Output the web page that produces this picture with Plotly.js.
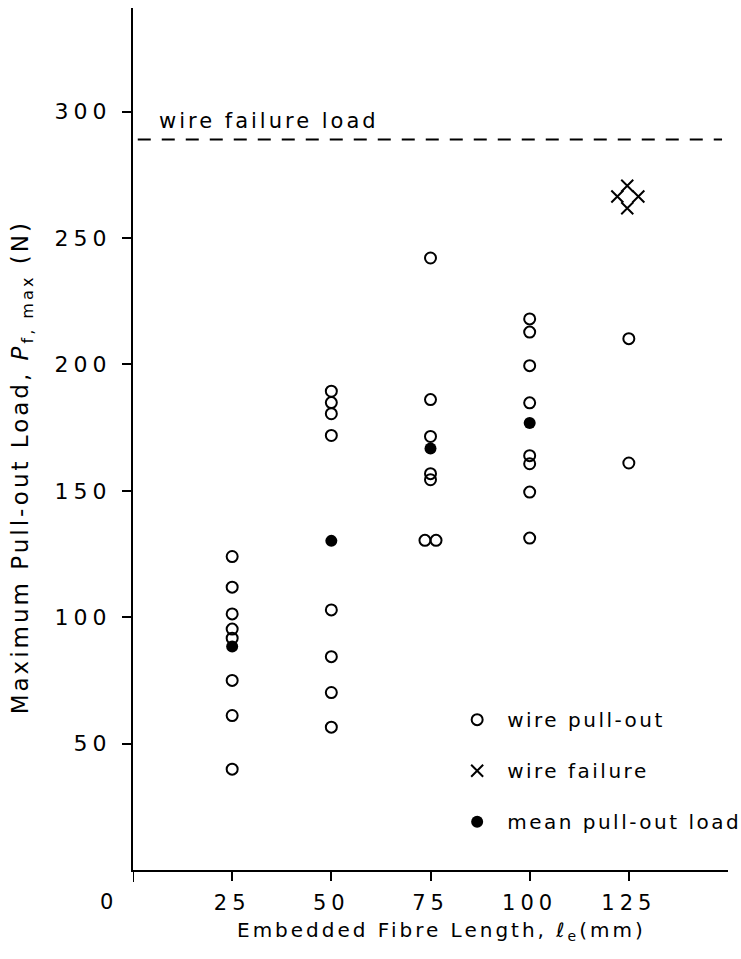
<!DOCTYPE html>
<html>
<head>
<meta charset="utf-8">
<script src="https://cdn.plot.ly/plotly-3.0.1.min.js"></script>
<style>
  html, body { margin: 0; padding: 0; background: #fff; }
  #chart { width: 741px; height: 959px; }
  .xtick text, .ytick text { letter-spacing: 5px; }
  .legendtext { letter-spacing: 2.5px; }
  .annotation-text { letter-spacing: 3px; }
</style>
</head>
<body>
<div id="chart"></div>
<script>
// ---- data ----
const pulloutX = [25,25,25,25,25,25,25,25,
                  50,50,50,50,50,50,50,50,
                  75,75,75,75,75,73.6,76.4,
                  100,100,100,100,100,100,100,100,
                  125,125];
const pulloutY = [124.0,111.9,101.3,95.3,91.7,75.0,61.1,39.9,
                  189.4,184.9,180.5,171.9,102.9,84.4,70.2,56.5,
                  242.1,186.1,171.5,156.8,154.4,130.4,130.4,
                  218.0,212.8,199.5,184.8,163.9,160.7,149.5,131.3,
                  210.2,161.0];
const meanX = [25, 50, 75, 100];
const meanY = [88.4, 130.2, 166.7, 176.8];
const failureX = [124.6, 122.1, 127.4, 124.6];
const failureY = [270.7, 266.4, 266.4, 261.8];
const failureLoad = 289;
const xTickVals = [25, 50, 75, 100, 125];
const xTickText = ['25', '50', '75', '100', '125'];
const yTickVals = [50, 100, 150, 200, 250, 300];
const xZeroLabel = '0';

const FONT = 'DejaVu Sans, sans-serif';

const traces = [
  { x: pulloutX, y: pulloutY, type: 'scatter', mode: 'markers', name: 'wire pull-out',
    legendgroup: 'a',
    marker: { symbol: 'circle-open', size: 11, color: '#000', line: { width: 2, color: '#000' } } },
  { x: failureX, y: failureY, type: 'scatter', mode: 'markers', name: 'wire failure',
    legendgroup: 'b',
    marker: { symbol: 'x-thin-open', size: 12, color: '#000', line: { width: 2, color: '#000' } } },
  { x: meanX, y: meanY, type: 'scatter', mode: 'markers', name: 'mean pull-out load',
    legendgroup: 'c',
    marker: { symbol: 'circle', size: 12, color: '#000' } }
];

const layout = {
  width: 741, height: 959,
  margin: { l: 133, r: 13, t: 8, b: 89, autoexpand: false },
  paper_bgcolor: '#fff', plot_bgcolor: '#fff',
  font: { family: FONT, color: '#000', size: 20 },
  showlegend: true,
  legend: {
    x: 0.528, y: 0.197, xanchor: 'left', yanchor: 'top',
    bgcolor: 'rgba(0,0,0,0)', borderwidth: 0,
    traceorder: 'grouped', tracegroupgap: 22,
    font: { family: FONT, size: 20, color: '#000' },
    itemwidth: 50
  },
  xaxis: {
    range: [0, 150], showgrid: false, zeroline: false,
    showline: true, linecolor: '#000', linewidth: 2,
    ticks: 'outside', ticklen: 9, tickwidth: 2, tickcolor: '#000',
    tickvals: xTickVals, ticktext: xTickText,
    tickfont: { family: FONT, size: 21, color: '#000' },
    ticklabelstandoff: 4
  },
  yaxis: {
    range: [0, 341], showgrid: false, zeroline: false,
    showline: true, linecolor: '#000', linewidth: 2,
    ticks: 'outside', ticklen: 9, tickwidth: 2, tickcolor: '#000',
    tickvals: yTickVals,
    tickfont: { family: FONT, size: 22, color: '#000' },
    ticklabelstandoff: 6
  },
  shapes: [
    { type: 'line', xref: 'paper', yref: 'y', x0: 0.008, x1: 0.99, y0: failureLoad, y1: failureLoad,
      line: { color: '#000', width: 2, dash: '13px,11px' } },
    { type: 'line', xref: 'x', yref: 'paper', x0: 0, x1: 0, y0: 0, y1: -0.014,
      line: { color: '#000', width: 2 } }
  ],
  annotations: [
    { text: 'wire failure load', xref: 'x', yref: 'y', x: 6, y: failureLoad,
      xanchor: 'left', yanchor: 'bottom', yshift: 4, showarrow: false,
      font: { family: FONT, size: 21, color: '#000' } },
    { text: xZeroLabel, xref: 'paper', yref: 'paper', x: -0.042, y: 0, yshift: -18,
      xanchor: 'center', yanchor: 'top', showarrow: false,
      font: { family: FONT, size: 21, color: '#000' } },
    { text: 'Embedded Fibre Length, <i>ℓ</i><sub>e</sub>(mm)', xref: 'paper', yref: 'paper',
      x: 0.518, y: 0, yshift: -46, xanchor: 'center', yanchor: 'top', showarrow: false,
      font: { family: FONT, size: 20, color: '#000' } },
    { text: 'Maximum Pull-out Load, <i>P</i><sub>f, max</sub> (N)', xref: 'paper', yref: 'paper',
      x: -0.185, y: 0.467, xanchor: 'center', yanchor: 'middle', textangle: -90, showarrow: false,
      font: { family: FONT, size: 23, color: '#000' } }
  ]
};

Plotly.newPlot('chart', traces, layout, { displayModeBar: false, staticPlot: true });
</script>
</body>
</html>
